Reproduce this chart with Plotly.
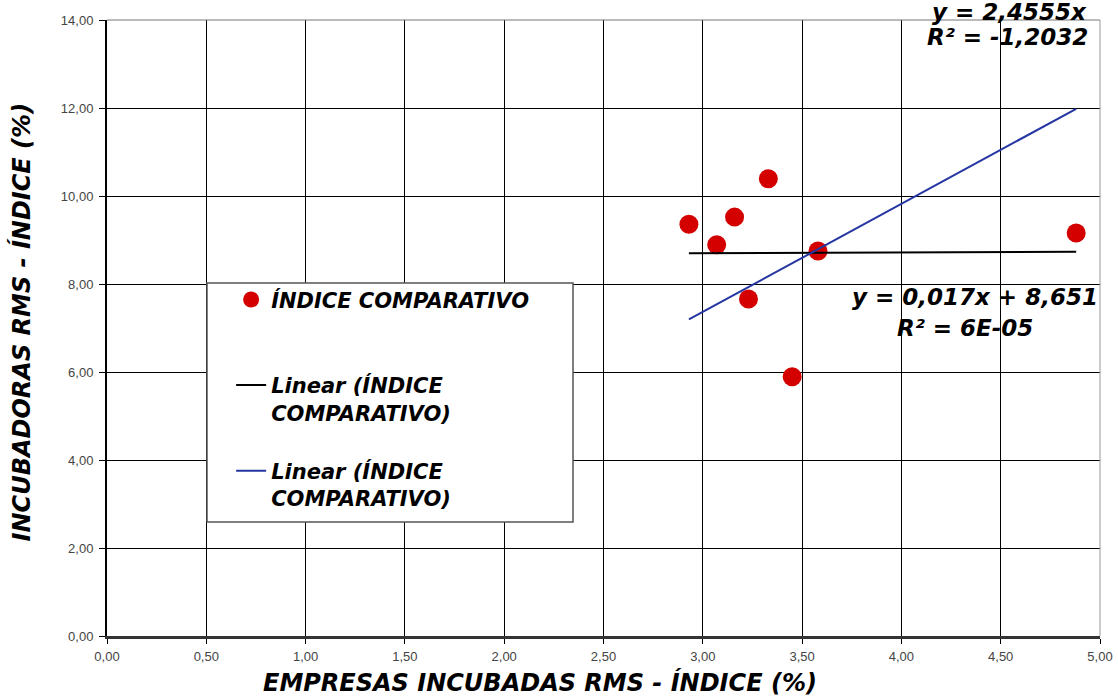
import numpy as np
import plotly.graph_objects as go

# Índice comparativo: empresas incubadas (x) vs incubadoras (y), RMS
empresas_idx = [2.93, 3.07, 3.16, 3.33, 3.58, 3.23, 3.45, 4.88]
incubadoras_idx = [9.36, 8.89, 9.52, 10.39, 8.75, 7.66, 5.89, 9.16]

# Trend lines: y = slope*x + intercept
fit_black = {"slope": 0.017, "intercept": 8.651}
fit_blue = {"slope": 2.4555, "intercept": 0.0}

x_ticks = [0, 0.5, 1, 1.5, 2, 2.5, 3, 3.5, 4, 4.5, 5]
y_ticks = [0, 2, 4, 6, 8, 10, 12, 14]

series_name = "ÍNDICE COMPARATIVO<br> "
trend_name = "Linear (ÍNDICE<br>COMPARATIVO)"
x_title = "EMPRESAS INCUBADAS RMS - ÍNDICE (%)"
y_title = "INCUBADORAS RMS - ÍNDICE (%)"

def bold_italic(size):
    return dict(family="DejaVu Sans", size=size, color="black",
                style="italic", weight="bold")

x_line = np.array([min(empresas_idx), max(empresas_idx)])

fig = go.Figure()
fig.add_trace(go.Scatter(
    x=empresas_idx, y=incubadoras_idx, mode="markers", name=series_name,
    marker=dict(color="#d40000", size=19, line=dict(width=0)),
    legendgroup="a",
))
fig.add_trace(go.Scatter(
    x=x_line, y=fit_black["slope"] * x_line + fit_black["intercept"],
    mode="lines", name=trend_name, line=dict(color="black", width=2),
    legendgroup="b",
))
fig.add_trace(go.Scatter(
    x=x_line, y=fit_blue["slope"] * x_line + fit_blue["intercept"],
    mode="lines", name=trend_name, line=dict(color="#2536a3", width=2),
    legendgroup="c",
))

# Legend frame
fig.add_shape(type="rect", xref="paper", yref="paper",
              x0=0.1007, x1=0.4693, y0=0.185, y1=0.573,
              fillcolor="white", line=dict(color="#555", width=1.5),
              layer="above")

# Regression equations (paper coordinates so the top pair may sit over the frame)
eq_font = bold_italic(23)
for x, y, txt in [(0.909, 1.013, "y = 2,4555x"),
                  (0.907, 0.973, "R² = -1,2032"),
                  (0.874, 0.550, "y = 0,017x + 8,651"),
                  (0.864, 0.500, "R² = 6E-05")]:
    fig.add_annotation(xref="paper", yref="paper", x=x, y=y, text=txt,
                       xanchor="center", yanchor="middle",
                       showarrow=False, font=eq_font)

# Axis titles
fig.add_annotation(xref="paper", yref="paper", x=0.436, y=-0.0747,
                   xanchor="center", yanchor="middle", text=x_title,
                   showarrow=False, font=bold_italic(24))
fig.add_annotation(xref="paper", yref="paper", x=-0.086, y=0.51,
                   xanchor="center", yanchor="middle", textangle=-90,
                   text=y_title, showarrow=False, font=bold_italic(24))

tick_font = dict(family="Liberation Sans", size=13, color="#444")

fig.update_layout(
    width=1118, height=696,
    margin=dict(l=107, r=18, t=20, b=60),
    paper_bgcolor="white", plot_bgcolor="white",
    separators=",.",
    showlegend=True,
    legend=dict(x=0.125, y=0.579, xanchor="left", yanchor="top",
                bgcolor="rgba(0,0,0,0)", borderwidth=0, valign="top",
                font=bold_italic(21), tracegroupgap=28, itemwidth=30),
    xaxis=dict(range=[0, 5], tickvals=x_ticks, tickformat=".2f",
               showgrid=True, gridcolor="black", gridwidth=1,
               showline=True, linecolor="#333", linewidth=3, mirror=False,
               ticks="outside", ticklen=5, tickcolor="black",
               ticklabelstandoff=1, automargin=False,
               tickfont=tick_font, zeroline=False),
    yaxis=dict(range=[0, 14], tickvals=y_ticks, tickformat=".2f",
               showgrid=True, gridcolor="black", gridwidth=1,
               showline=True, linecolor="black", linewidth=2, mirror=False,
               ticks="outside", ticklen=6, tickcolor="black",
               ticklabelstandoff=3, automargin=False,
               tickfont=tick_font, zeroline=False),
)

# Top and right frame of the plot area
fig.add_shape(type="line", xref="paper", yref="paper", x0=0, x1=1, y0=1, y1=1,
              line=dict(color="#777", width=1))
fig.add_shape(type="line", xref="paper", yref="paper", x0=1, x1=1, y0=0, y1=1,
              line=dict(color="#999", width=1))

fig.write_html("out.html")
